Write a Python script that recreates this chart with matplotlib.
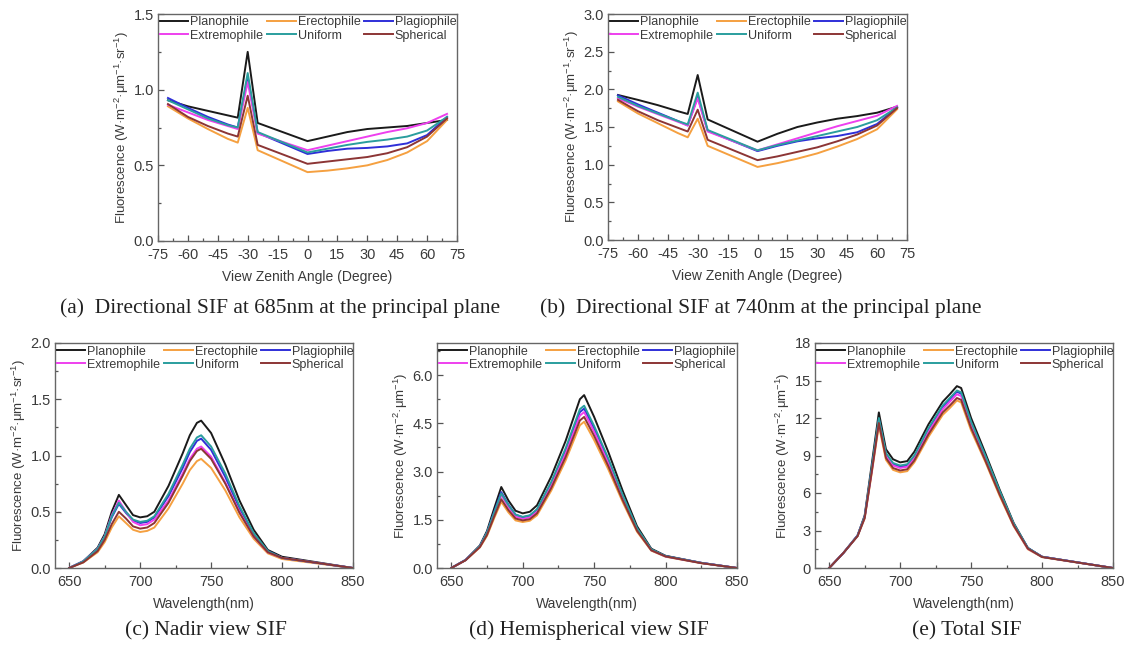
import matplotlib
matplotlib.use("Agg")
import matplotlib.pyplot as plt
from matplotlib.ticker import MultipleLocator, FormatStrFormatter

plt.rcParams['font.family'] = ['Liberation Sans', 'DejaVu Sans']
plt.rcParams['mathtext.fontset'] = 'custom'
plt.rcParams['mathtext.rm'] = 'Liberation Sans'
plt.rcParams['mathtext.it'] = 'Liberation Sans:italic'
plt.rcParams['mathtext.bf'] = 'Liberation Sans:bold'
plt.rcParams['axes.unicode_minus'] = False

# ---------------- data ----------------
series_names = ["Planophile", "Erectophile", "Plagiophile", "Extremophile", "Uniform", "Spherical"]
series_colors = ["#1a1a1a", "#f5a040", "#2f2fd8", "#ee40ee", "#2a9e9e", "#8c3535"]

vza = [-70, -60, -50, -40, -35, -30, -25, 0, 10, 20, 30, 40, 50, 60, 70]

sif685_planophile   = [0.93, 0.89, 0.86, 0.83, 0.815, 1.25, 0.78, 0.66, 0.69, 0.72, 0.74, 0.75, 0.76, 0.78, 0.80]
sif685_erectophile  = [0.89, 0.81, 0.74, 0.675, 0.65, 0.88, 0.60, 0.455, 0.465, 0.48, 0.50, 0.535, 0.585, 0.66, 0.80]
sif685_plagiophile  = [0.945, 0.88, 0.82, 0.77, 0.75, 1.08, 0.715, 0.575, 0.595, 0.61, 0.615, 0.625, 0.645, 0.70, 0.82]
sif685_extremophile = [0.90, 0.85, 0.80, 0.76, 0.74, 1.05, 0.71, 0.60, 0.63, 0.66, 0.69, 0.72, 0.745, 0.78, 0.84]
sif685_uniform      = [0.93, 0.87, 0.81, 0.765, 0.75, 1.11, 0.72, 0.585, 0.61, 0.635, 0.655, 0.67, 0.69, 0.73, 0.82]
sif685_spherical    = [0.905, 0.82, 0.76, 0.71, 0.69, 0.96, 0.635, 0.51, 0.525, 0.54, 0.555, 0.58, 0.62, 0.69, 0.81]

sif740_planophile   = [1.925, 1.86, 1.79, 1.71, 1.673, 2.19, 1.60, 1.305, 1.41, 1.50, 1.56, 1.61, 1.645, 1.69, 1.77]
sif740_erectophile  = [1.84, 1.68, 1.55, 1.42, 1.363, 1.61, 1.25, 0.97, 1.02, 1.08, 1.15, 1.24, 1.34, 1.47, 1.735]
sif740_plagiophile  = [1.92, 1.80, 1.69, 1.58, 1.52, 1.90, 1.45, 1.18, 1.25, 1.31, 1.35, 1.38, 1.43, 1.54, 1.76]
sif740_extremophile = [1.88, 1.77, 1.67, 1.57, 1.52, 1.88, 1.44, 1.19, 1.27, 1.35, 1.43, 1.51, 1.58, 1.65, 1.78]
sif740_uniform      = [1.90, 1.78, 1.68, 1.58, 1.535, 1.956, 1.46, 1.19, 1.26, 1.32, 1.38, 1.44, 1.50, 1.59, 1.76]
sif740_spherical    = [1.86, 1.71, 1.59, 1.49, 1.44, 1.73, 1.33, 1.06, 1.11, 1.17, 1.23, 1.31, 1.40, 1.52, 1.75]

wl = [650, 660, 670, 675, 680, 685, 690, 695, 700, 705, 710, 720, 730, 735, 740, 743, 750, 760, 770, 780, 790, 800, 825, 850]

nadir_planophile   = [0.0, 0.06, 0.18, 0.30, 0.50, 0.65, 0.56, 0.47, 0.45, 0.46, 0.50, 0.73, 1.02, 1.18, 1.29, 1.31, 1.20, 0.92, 0.60, 0.34, 0.16, 0.10, 0.05, 0.0]
nadir_erectophile  = [0.0, 0.05, 0.14, 0.23, 0.36, 0.46, 0.40, 0.34, 0.32, 0.33, 0.36, 0.53, 0.75, 0.87, 0.95, 0.97, 0.89, 0.69, 0.45, 0.26, 0.13, 0.08, 0.04, 0.0]
nadir_plagiophile  = [0.0, 0.06, 0.17, 0.28, 0.45, 0.57, 0.49, 0.42, 0.40, 0.41, 0.45, 0.64, 0.89, 1.03, 1.13, 1.15, 1.05, 0.81, 0.53, 0.30, 0.15, 0.09, 0.045, 0.0]
nadir_extremophile = [0.0, 0.06, 0.17, 0.28, 0.47, 0.60, 0.50, 0.41, 0.38, 0.39, 0.43, 0.60, 0.84, 0.97, 1.06, 1.08, 0.99, 0.76, 0.50, 0.28, 0.14, 0.09, 0.045, 0.0]
nadir_uniform      = [0.0, 0.06, 0.17, 0.28, 0.46, 0.58, 0.50, 0.43, 0.41, 0.42, 0.46, 0.66, 0.92, 1.06, 1.16, 1.18, 1.08, 0.84, 0.55, 0.31, 0.15, 0.09, 0.045, 0.0]
nadir_spherical    = [0.0, 0.05, 0.15, 0.25, 0.39, 0.50, 0.44, 0.37, 0.35, 0.36, 0.40, 0.58, 0.82, 0.95, 1.04, 1.06, 0.97, 0.75, 0.49, 0.28, 0.14, 0.09, 0.045, 0.0]

hemi_planophile   = [0.0, 0.25, 0.70, 1.15, 1.85, 2.52, 2.10, 1.78, 1.70, 1.75, 1.95, 2.85, 3.95, 4.60, 5.25, 5.38, 4.70, 3.60, 2.40, 1.30, 0.60, 0.38, 0.16, 0.0]
hemi_erectophile  = [0.0, 0.24, 0.64, 1.00, 1.55, 2.06, 1.73, 1.48, 1.43, 1.47, 1.64, 2.41, 3.34, 3.89, 4.44, 4.55, 3.98, 3.06, 2.05, 1.13, 0.54, 0.35, 0.15, 0.0]
hemi_plagiophile  = [0.0, 0.25, 0.68, 1.10, 1.74, 2.36, 1.97, 1.66, 1.58, 1.63, 1.81, 2.64, 3.65, 4.25, 4.85, 4.96, 4.34, 3.34, 2.23, 1.22, 0.57, 0.37, 0.16, 0.0]
hemi_extremophile = [0.0, 0.25, 0.67, 1.08, 1.68, 2.27, 1.90, 1.60, 1.53, 1.58, 1.76, 2.57, 3.56, 4.15, 4.74, 4.85, 4.24, 3.26, 2.18, 1.19, 0.56, 0.36, 0.16, 0.0]
hemi_uniform      = [0.0, 0.25, 0.68, 1.10, 1.72, 2.32, 1.96, 1.66, 1.59, 1.64, 1.83, 2.68, 3.72, 4.33, 4.94, 5.05, 4.42, 3.40, 2.27, 1.24, 0.58, 0.37, 0.16, 0.0]
hemi_spherical    = [0.0, 0.24, 0.65, 1.03, 1.60, 2.14, 1.80, 1.54, 1.48, 1.52, 1.70, 2.49, 3.45, 4.02, 4.59, 4.70, 4.11, 3.16, 2.11, 1.16, 0.55, 0.36, 0.15, 0.0]

total_planophile   = [0.0, 1.2, 2.6, 4.2, 8.3, 12.45, 9.5, 8.7, 8.45, 8.55, 9.3, 11.5, 13.3, 13.9, 14.55, 14.4, 12.0, 9.2, 6.3, 3.6, 1.6, 0.9, 0.45, 0.0]
total_erectophile  = [0.0, 1.2, 2.55, 3.95, 7.6, 11.4, 8.65, 7.85, 7.65, 7.75, 8.45, 10.5, 12.25, 12.8, 13.4, 13.25, 11.0, 8.5, 5.8, 3.35, 1.5, 0.87, 0.43, 0.0]
total_plagiophile  = [0.0, 1.2, 2.6, 4.1, 7.9, 11.9, 9.1, 8.3, 8.1, 8.2, 8.9, 11.1, 12.9, 13.5, 14.1, 13.95, 11.6, 8.9, 6.1, 3.5, 1.6, 0.9, 0.45, 0.0]
total_extremophile = [0.0, 1.2, 2.6, 4.05, 7.8, 11.75, 9.0, 8.2, 8.0, 8.1, 8.8, 10.9, 12.7, 13.3, 13.9, 13.75, 11.45, 8.8, 6.05, 3.45, 1.55, 0.9, 0.45, 0.0]
total_uniform      = [0.0, 1.2, 2.6, 4.1, 8.0, 12.0, 9.2, 8.4, 8.2, 8.3, 9.0, 11.2, 13.0, 13.6, 14.2, 14.05, 11.7, 9.0, 6.2, 3.55, 1.6, 0.9, 0.45, 0.0]
total_spherical    = [0.0, 1.2, 2.55, 4.0, 7.7, 11.6, 8.8, 8.0, 7.8, 7.9, 8.6, 10.7, 12.45, 13.0, 13.6, 13.45, 11.2, 8.6, 5.9, 3.4, 1.55, 0.88, 0.44, 0.0]

panels = [
    dict(x=vza, ys=[sif685_planophile, sif685_erectophile, sif685_plagiophile, sif685_extremophile, sif685_uniform, sif685_spherical],
         xlim=(-75, 75), ylim=(0, 1.5), xmaj=15, xmin=7.5, ymaj=0.5, ymin=0.25, yfmt='%.1f',
         xlabel='View Zenith Angle (Degree)',
         ylabel='Fluorescence (W·m$^{-2}$·μm$^{-1}$·sr$^{-1}$)'),
    dict(x=vza, ys=[sif740_planophile, sif740_erectophile, sif740_plagiophile, sif740_extremophile, sif740_uniform, sif740_spherical],
         xlim=(-75, 75), ylim=(0, 3.0), xmaj=15, xmin=7.5, ymaj=0.5, ymin=0.25, yfmt='%.1f',
         xlabel='View Zenith Angle (Degree)',
         ylabel='Fluorescence (W·m$^{-2}$·μm$^{-1}$·sr$^{-1}$)'),
    dict(x=wl, ys=[nadir_planophile, nadir_erectophile, nadir_plagiophile, nadir_extremophile, nadir_uniform, nadir_spherical],
         xlim=(640, 850), ylim=(0, 2.0), xmaj=50, xmin=25, ymaj=0.5, ymin=0.25, yfmt='%.1f',
         xlabel='Wavelength(nm)',
         ylabel='Fluorescence (W·m$^{-2}$·μm$^{-1}$·sr$^{-1}$)'),
    dict(x=wl, ys=[hemi_planophile, hemi_erectophile, hemi_plagiophile, hemi_extremophile, hemi_uniform, hemi_spherical],
         xlim=(640, 850), ylim=(0, 7.0), xmaj=50, xmin=25, ymaj=1.5, ymin=0.75, yfmt='%.1f',
         xlabel='Wavelength(nm)',
         ylabel='Fluorescence (W·m$^{-2}$·μm$^{-1}$)'),
    dict(x=wl, ys=[total_planophile, total_erectophile, total_plagiophile, total_extremophile, total_uniform, total_spherical],
         xlim=(640, 850), ylim=(0, 18), xmaj=50, xmin=25, ymaj=3, ymin=1.5, yfmt='%d',
         xlabel='Wavelength(nm)',
         ylabel='Fluorescence (W·m$^{-2}$·μm$^{-1}$)'),
]

positions = [
    [158/1127, 1-241/647, 299/1127, 227/647],
    [608/1127, 1-240/647, 299/1127, 226/647],
    [55/1127, 1-568/647, 298/1127, 225/647],
    [437/1127, 1-568/647, 300/1127, 225/647],
    [815/1127, 1-568/647, 298/1127, 225/647],
]

captions = [
    ("(a)  Directional SIF at 685nm at the principal plane", 280/1127, 1-313/647),
    ("(b)  Directional SIF at 740nm at the principal plane", 761/1127, 1-313/647),
    ("(c) Nadir view SIF", 206/1127, 1-635/647),
    ("(d) Hemispherical view SIF", 589/1127, 1-635/647),
    ("(e) Total SIF", 967/1127, 1-635/647),
]

txt = '#3a3a3a'
fig = plt.figure(figsize=(11.27, 6.47), dpi=100)

order = ["Planophile", "Extremophile", "Erectophile", "Uniform", "Plagiophile", "Spherical"]
for p, pos in zip(panels, positions):
    ax = fig.add_axes(pos)
    handles = {}
    for name, col, y in zip(series_names, series_colors, p['ys']):
        ln, = ax.plot(p['x'], y, color=col, lw=1.4, label=name)
        handles[name] = ln
    ax.set_xlim(*p['xlim'])
    ax.set_ylim(*p['ylim'])
    ax.xaxis.set_major_locator(MultipleLocator(p['xmaj']))
    ax.xaxis.set_minor_locator(MultipleLocator(p['xmin']))
    ax.yaxis.set_major_locator(MultipleLocator(p['ymaj']))
    ax.yaxis.set_minor_locator(MultipleLocator(p['ymin']))
    ax.yaxis.set_major_formatter(FormatStrFormatter(p['yfmt']))
    ax.tick_params(which='both', direction='in', top=False, right=False, colors='#555555',
                   labelcolor=txt, labelsize=10.5, width=0.9)
    ax.tick_params(axis='x', which='both', pad=5)
    ax.tick_params(axis='y', which='both', pad=3)
    ax.tick_params(which='major', length=4)
    ax.tick_params(which='minor', length=2.5)
    for s in ax.spines.values():
        s.set_color('#666666')
        s.set_linewidth(1.0)
    ax.set_xlabel(p['xlabel'], fontsize=10, color=txt, labelpad=6)
    ax.set_ylabel(p['ylabel'], fontsize=9.5, color=txt, labelpad=2)
    ax.legend([handles[n] for n in order], order, ncol=3, loc='upper left',
              bbox_to_anchor=(-0.003, 1.0), frameon=False, fontsize=9.0,
              handlelength=2.3, handletextpad=0.15, columnspacing=0.3,
              labelspacing=0.1, borderaxespad=0.1, borderpad=0.1,
              labelcolor=txt)

for text, x, y in captions:
    fig.text(x, y, text, ha='center', va='baseline', fontsize=15.5,
             family=['Liberation Serif', 'DejaVu Serif'], color='#222222')

fig.savefig('out.png', dpi=100, facecolor='white')
